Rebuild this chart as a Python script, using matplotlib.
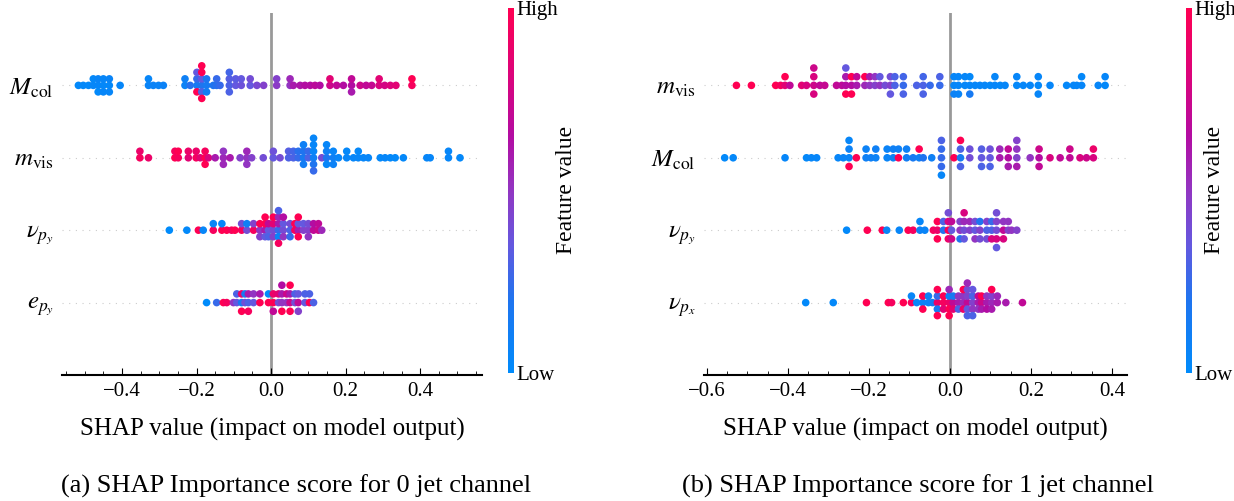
import numpy as np
import matplotlib
matplotlib.use("Agg")
import matplotlib.pyplot as plt
from matplotlib.colors import LinearSegmentedColormap

plt.rcParams['font.family'] = ['Liberation Serif', 'DejaVu Serif']
plt.rcParams['mathtext.fontset'] = 'stix'

# ---- data: SHAP values and (normalised) feature values ----
# (a) 0 jet channel, top to bottom
left_labels = [r'$M_{\rm col}$', r'$m_{\rm vis}$', r'$\nu_{p_y}$', r'$e_{p_y}$']

mcol0_shap = [-0.517, -0.504, -0.490, -0.477, -0.477, -0.464, -0.464, -0.464, -0.450, -0.450, -0.450,
              -0.434, -0.434, -0.434, -0.405,
              -0.329, -0.329, -0.316, -0.302, -0.289, -0.231, -0.231, -0.217,
              -0.199, -0.199, -0.199, -0.199, -0.186, -0.186, -0.186, -0.186, -0.186, -0.186,
              -0.173, -0.173, -0.173, -0.155, -0.146, -0.146, -0.137,
              -0.112, -0.112, -0.112, -0.112, -0.095, -0.095, -0.080, -0.080, -0.056, -0.056,
              -0.038, -0.020, 0.015, 0.015, 0.051, 0.051,
              0.060, 0.078, 0.091, 0.105, 0.118, 0.131, 0.158, 0.158, 0.176, 0.194,
              0.216, 0.216, 0.216, 0.239, 0.255, 0.270, 0.290, 0.290, 0.305, 0.320, 0.335,
              0.378, 0.378]
mcol0_feat = [0.02, 0.03, 0.02, 0.05, 0.03, 0.04, 0.06, 0.02, 0.03, 0.05, 0.04,
              0.03, 0.06, 0.05, 0.04,
              0.06, 0.05, 0.07, 0.06, 0.08, 0.08, 0.10, 0.22,
              0.15, 0.25, 1.00, 0.35, 0.20, 0.35, 0.30, 1.00, 1.00, 1.00,
              0.15, 0.18, 0.12, 0.20, 0.22, 0.25, 0.25,
              0.30, 0.32, 0.30, 0.28, 0.35, 0.33, 0.38, 0.35, 0.35, 0.40,
              0.42, 0.45, 0.48, 0.45, 0.50, 0.55,
              0.60, 0.62, 0.65, 0.65, 0.68, 0.65, 0.75, 0.85, 0.70, 0.65,
              0.65, 0.70, 0.60, 0.75, 0.70, 0.72, 0.80, 0.85, 0.78, 0.82, 0.85,
              0.95, 1.00]

mvis0_shap = [-0.352, -0.352, -0.329, -0.258, -0.258, -0.249, -0.249, -0.222, -0.222, -0.201, -0.201,
              -0.190, -0.177, -0.177, -0.177, -0.168, -0.150, -0.128, -0.128, -0.128, -0.110,
              -0.083, -0.065, -0.065, -0.065, -0.052, -0.021, 0.006, 0.006, 0.024,
              0.047, 0.047, 0.060, 0.060, 0.073, 0.073, 0.087, 0.087, 0.087, 0.087, 0.100, 0.100,
              0.114, 0.114, 0.114, 0.114, 0.114, 0.114, 0.136, 0.149, 0.149, 0.149, 0.149,
              0.167, 0.167, 0.167, 0.181, 0.203, 0.203, 0.221, 0.234, 0.234, 0.248, 0.261,
              0.293, 0.306, 0.320, 0.333, 0.355, 0.418, 0.427, 0.476, 0.476, 0.507]
mvis0_feat = [0.95, 0.90, 0.90, 1.00, 0.95, 0.95, 1.00, 0.85, 0.90, 0.95, 0.90,
              0.85, 1.00, 0.95, 1.00, 0.80, 0.60, 0.55, 0.50, 0.55, 0.60,
              0.45, 0.50, 0.55, 0.50, 0.45, 0.40, 0.35, 0.38, 0.40,
              0.30, 0.32, 0.30, 0.28, 0.25, 0.22, 0.15, 0.20, 0.12, 0.10, 0.30, 0.25,
              0.10, 0.05, 0.20, 0.05, 0.25, 0.05, 0.40, 0.20, 0.10, 0.05, 0.05,
              0.10, 0.05, 0.08, 0.05, 0.05, 0.03, 0.04, 0.05, 0.03, 0.04, 0.05,
              0.03, 0.04, 0.03, 0.02, 0.03, 0.05, 0.04, 0.04, 0.05, 0.03]

nupy0_shap = [-0.273, -0.226, -0.195, -0.182, -0.155, -0.155, -0.132, -0.132, -0.119, -0.106, -0.097,
              -0.079, -0.079, -0.065, -0.065, -0.047, -0.047, -0.030, -0.030, -0.030,
              -0.016, -0.016, -0.016, -0.016, -0.007, -0.007, -0.007, 0.006, 0.006, 0.006, 0.006,
              0.020, 0.020, 0.020, 0.020, 0.020, 0.020, 0.033, 0.033, 0.033, 0.033,
              0.051, 0.051, 0.051, 0.064, 0.064, 0.073, 0.073, 0.073, 0.073, 0.087, 0.087,
              0.100, 0.100, 0.100, 0.114, 0.114, 0.127, 0.127, 0.136]
nupy0_feat = [0.00, 0.02, 1.00, 0.05, 0.95, 0.05, 1.00, 0.04, 1.00, 0.95, 1.00,
              0.95, 0.40, 0.40, 0.10, 0.95, 0.45, 0.50, 1.00, 0.45,
              0.60, 1.00, 0.35, 1.00, 0.35, 0.70, 0.30, 0.40, 0.85, 0.45, 1.00,
              0.25, 0.60, 0.05, 0.55, 0.95, 0.30, 0.40, 0.35, 0.50, 0.65,
              0.30, 0.40, 0.25, 0.95, 1.00, 0.60, 0.35, 1.00, 1.00, 0.45, 0.35,
              0.45, 0.40, 0.50, 0.70, 0.65, 0.75, 0.70, 0.55]

epy0_shap = [-0.173, -0.146, -0.128, -0.119, -0.101, -0.092, -0.092, -0.079, -0.079, -0.079,
             -0.070, -0.070, -0.061, -0.061, -0.061, -0.047, -0.047, -0.030, -0.030,
             -0.007, -0.007, 0.006, 0.006, 0.006, 0.020, 0.020, 0.029, 0.029, 0.029, 0.029,
             0.042, 0.042, 0.051, 0.051, 0.051, 0.051, 0.064, 0.064, 0.073, 0.073, 0.073,
             0.091, 0.091, 0.103, 0.103, 0.114]
epy0_feat = [0.00, 0.25, 1.00, 0.95, 0.50, 0.35, 0.30, 0.15, 0.90, 1.00,
             0.40, 0.15, 0.30, 0.60, 0.95, 0.35, 0.50, 1.00, 0.60,
             1.00, 0.00, 1.00, 0.90, 0.70, 0.40, 0.85, 0.50, 0.60, 1.00, 0.65,
             0.50, 0.75, 0.75, 0.60, 1.00, 1.00, 0.40, 0.30, 0.70, 0.35, 0.45,
             0.35, 0.30, 1.00, 0.30, 0.30]

# (b) 1 jet channel, top to bottom
right_labels = [r'$m_{\rm vis}$', r'$M_{\rm col}$', r'$\nu_{p_y}$', r'$\nu_{p_x}$']

mvis1_shap = [-0.527, -0.490, -0.430, -0.418, -0.407, -0.407, -0.395, -0.366, -0.354,
              -0.336, -0.336, -0.336, -0.336, -0.321, -0.309, -0.280, -0.267,
              -0.257, -0.257, -0.257, -0.257, -0.243, -0.243, -0.243, -0.230, -0.230,
              -0.210, -0.210, -0.198, -0.198, -0.185, -0.185, -0.173, -0.173, -0.160,
              -0.147, -0.147, -0.147, -0.136, -0.136, -0.115, -0.115, -0.115, -0.082,
              -0.066, -0.066, -0.066, -0.049, -0.025, -0.025,
              0.010, 0.010, 0.010, 0.021, 0.021, 0.021, 0.037, 0.037, 0.049, 0.049, 0.049,
              0.062, 0.074, 0.086, 0.099, 0.111, 0.111, 0.124, 0.136, 0.165, 0.165, 0.181, 0.198,
              0.218, 0.218, 0.218, 0.247, 0.288, 0.305, 0.313, 0.325, 0.325, 0.366, 0.383, 0.383]
mvis1_feat = [1.00, 1.00, 1.00, 0.95, 0.85, 1.00, 0.70, 0.85, 0.80,
              0.75, 0.80, 0.80, 0.75, 0.70, 0.72, 0.70, 0.68,
              0.65, 0.60, 1.00, 0.35, 0.65, 1.00, 1.00, 0.60, 0.70,
              0.55, 1.00, 0.50, 0.60, 0.45, 0.50, 0.50, 0.35, 0.40,
              0.45, 0.40, 0.35, 0.30, 0.30, 0.25, 0.28, 0.30, 0.30,
              0.30, 0.28, 0.30, 0.25, 0.25, 0.30,
              0.05, 0.05, 0.08, 0.05, 0.04, 0.06, 0.05, 0.05, 0.04, 0.03, 0.15,
              0.05, 0.04, 0.05, 0.03, 0.04, 0.05, 0.03, 0.05, 0.03, 0.04, 0.04, 0.05,
              0.03, 0.04, 0.05, 0.04, 0.03, 0.04, 0.05, 0.04, 0.03, 0.05, 0.03, 0.04]

mcol1_shap = [-0.556, -0.535, -0.407, -0.354, -0.342, -0.329, -0.276, -0.263,
              -0.249, -0.249, -0.249, -0.249, -0.231, -0.207, -0.207, -0.195, -0.183, -0.183,
              -0.155, -0.155, -0.140, -0.140, -0.127, -0.127, -0.107, -0.107, -0.091,
              -0.076, -0.076, -0.066, -0.045, -0.021, -0.021, -0.021, -0.021, -0.021,
              0.010, 0.026, 0.026, 0.026, 0.026, 0.049, 0.049, 0.078, 0.078, 0.078,
              0.099, 0.099, 0.099, 0.123, 0.123, 0.144, 0.144, 0.144, 0.165, 0.165, 0.165, 0.165,
              0.198, 0.220, 0.220, 0.220, 0.247, 0.272, 0.296, 0.296, 0.321, 0.337, 0.354, 0.354]
mcol1_feat = [0.02, 0.03, 0.04, 0.03, 0.05, 0.04, 0.05, 0.06,
              0.06, 0.08, 1.00, 0.05, 1.00, 0.10, 0.08, 0.10, 0.08, 0.10,
              0.06, 0.07, 0.08, 0.10, 1.00, 0.10, 0.12, 0.10, 0.15,
              0.10, 1.00, 0.20, 0.10, 0.25, 0.25, 0.25, 0.30, 0.05,
              1.00, 0.15, 0.30, 0.30, 1.00, 0.40, 0.38, 0.35, 0.32, 0.30,
              0.35, 0.38, 0.30, 0.60, 0.55, 0.65, 0.70, 0.60, 0.45, 0.50, 0.60, 0.45,
              0.50, 0.65, 0.75, 0.70, 0.80, 0.70, 0.70, 0.75, 0.80, 0.75, 0.80, 0.90]

nupy1_shap = [-0.255, -0.204, -0.167, -0.156, -0.125, -0.103, -0.091, -0.074, -0.074, -0.062,
              -0.041, -0.031, -0.031, -0.031, -0.016, -0.016, -0.004, -0.004, -0.004, -0.004,
              0.004, 0.004, 0.004, 0.025, 0.025, 0.025, 0.035, 0.035, 0.035, 0.035, 0.049, 0.049,
              0.062, 0.062, 0.062, 0.074, 0.074, 0.074, 0.091, 0.091, 0.091, 0.103, 0.103, 0.103,
              0.115, 0.115, 0.115, 0.115, 0.115, 0.132, 0.132, 0.132, 0.144, 0.144, 0.152, 0.165]
nupy1_feat = [0.02, 1.00, 1.00, 0.05, 0.05, 1.00, 0.95, 0.08, 0.05, 0.06,
              0.95, 0.90, 1.00, 1.00, 0.20, 0.30, 1.00, 0.80, 0.90, 0.40,
              0.35, 0.70, 0.75, 0.50, 0.45, 0.20, 0.40, 0.55, 0.35, 0.80, 0.45, 0.55,
              0.35, 0.40, 0.50, 0.45, 0.20, 0.40, 0.30, 0.45, 0.40, 0.30, 0.25, 0.80,
              0.40, 0.45, 0.80, 0.40, 0.35, 0.70, 0.50, 0.80, 0.45, 0.50, 0.50, 0.45]

nupx1_shap = [-0.356, -0.288, -0.206, -0.152, -0.144, -0.115, -0.095, -0.095, -0.082,
              -0.067, -0.067, -0.067, -0.053, -0.053, -0.043,
              -0.031, -0.031, -0.031, -0.031, -0.031, -0.016, -0.016, -0.016,
              -0.002, -0.002, -0.002, -0.002, -0.002, 0.008, 0.008, 0.008, 0.021, 0.021, 0.021,
              0.033, 0.033, 0.033, 0.033, 0.043, 0.043, 0.043, 0.043, 0.043, 0.043,
              0.056, 0.056, 0.056, 0.056, 0.056, 0.070, 0.070, 0.070, 0.078, 0.078, 0.078,
              0.091, 0.091, 0.091, 0.103, 0.103, 0.103, 0.103, 0.117, 0.117, 0.138, 0.179]
nupx1_feat = [0.02, 0.03, 1.00, 1.00, 0.95, 1.00, 0.95, 0.05, 0.05,
              0.08, 1.00, 1.00, 0.08, 0.10, 0.12,
              0.90, 0.25, 0.15, 1.00, 1.00, 0.95, 1.00, 0.85,
              0.90, 0.10, 1.00, 0.55, 1.00, 0.70, 0.15, 0.85, 0.60, 0.50, 0.30,
              0.55, 0.50, 0.90, 1.00, 0.70, 0.45, 0.35, 0.40, 0.30, 0.55,
              0.45, 0.30, 0.50, 0.35, 0.30, 0.60, 0.70, 0.50, 0.75, 1.00, 0.60,
              0.60, 0.50, 0.65, 0.55, 0.45, 0.60, 1.00, 0.60, 0.55, 0.60, 0.70]

left_shap = [mcol0_shap, mvis0_shap, nupy0_shap, epy0_shap]
left_feat = [mcol0_feat, mvis0_feat, nupy0_feat, epy0_feat]
right_shap = [mvis1_shap, mcol1_shap, nupy1_shap, nupx1_shap]
right_feat = [mvis1_feat, mcol1_feat, nupy1_feat, nupx1_feat]

# shap-like blue -> red colormap
red_blue = LinearSegmentedColormap.from_list('red_blue', [
    (0.0, '#008bfb'), (0.2, '#1f74ef'), (0.35, '#6458df'), (0.5, '#9236c2'),
    (0.65, '#b30ca2'), (0.8, '#d8047f'), (1.0, '#ff0052')])


def swarm_offsets(vals, row_height=0.4, nbins=100):
    # same binning/stacking as shap's beeswarm
    vals = np.asarray(vals, dtype=float)
    quant = np.round(nbins * (vals - vals.min()) / (vals.max() - vals.min() + 1e-8))
    inds = np.argsort(quant, kind='stable')
    ys = np.zeros(len(vals))
    layer, last = 0, -1
    for i in inds:
        if quant[i] != last:
            layer = 0
        ys[i] = np.ceil(layer / 2) * ((layer % 2) * 2 - 1)
        layer += 1
        last = quant[i]
    ys *= 0.9 * (row_height / np.max(ys + 1))
    return ys


def beeswarm(ax, cax, labels, shap_rows, feat_rows, xlim, xticks, fv_x):
    n = len(labels)
    for i, (sv, fv) in enumerate(zip(shap_rows, feat_rows)):
        pos = n - 1 - i
        ax.axhline(pos, color='#cccccc', lw=0.8, dashes=(1, 5), zorder=-1)
        ys = swarm_offsets(sv)
        ax.scatter(sv, pos + ys, c=fv, cmap=red_blue, vmin=0, vmax=1, s=30,
                   linewidth=0, alpha=1, zorder=3)
    ax.axvline(0, color='#999999', lw=2, zorder=-1)
    ax.set_xlim(*xlim)
    ax.set_ylim(-1, n)
    ax.set_yticks(range(n))
    ax.set_yticklabels(labels[::-1], fontsize=18)
    ax.tick_params(axis='y', length=0, pad=6)
    ax.set_xticks(xticks)
    ax.set_xticklabels([f'{t:.1f}'.replace('-', '\u2212') for t in xticks])
    ax.xaxis.set_minor_locator(plt.MultipleLocator(0.05))
    ax.tick_params(axis='x', which='major', direction='in', length=5, labelsize=15, pad=5)
    ax.tick_params(axis='x', which='minor', direction='in', length=3)
    for side in ('left', 'right', 'top'):
        ax.spines[side].set_visible(False)
    ax.spines['bottom'].set_linewidth(1.5)

    # x label centred under the axes
    bb = ax.get_position()
    fig.text(bb.x0 + bb.width / 2, 1 - 429 / 501, 'SHAP value (impact on model output)',
             fontsize=18, ha='center', va='center')

    sm = plt.cm.ScalarMappable(cmap=red_blue, norm=plt.Normalize(0, 1))
    cb = plt.colorbar(sm, cax=cax, ticks=[0, 1])
    cb.outline.set_visible(False)
    cb.set_ticklabels(['Low', 'High'])
    cax.tick_params(labelsize=15, length=0, pad=1.5)
    fig.text(fv_x, 0.62, 'Feature value', rotation=90, fontsize=17,
             ha='center', va='center')


fig = plt.figure(figsize=(12.34, 5.01), dpi=100)
ax_a = fig.add_axes([62 / 1234, 0.2515, 420 / 1234, 0.7226])
cax_a = fig.add_axes([508 / 1234, 0.2555, 0.005, 0.7285])
ax_b = fig.add_axes([704 / 1234, 0.2515, 423 / 1234, 0.7226])
cax_b = fig.add_axes([1186 / 1234, 0.2555, 0.005, 0.7285])

beeswarm(ax_a, cax_a, left_labels, left_shap, left_feat,
         (-0.561, 0.566), [-0.4, -0.2, 0.0, 0.2, 0.4], 567 / 1234)
beeswarm(ax_b, cax_b, right_labels, right_shap, right_feat,
         (-0.607, 0.437), [-0.6, -0.4, -0.2, 0.0, 0.2, 0.4], 1214 / 1234)

fig.text(296 / 1234, 1 - 486 / 501, '(a) SHAP Importance score for 0 jet channel',
         fontsize=19, ha='center', va='center')
fig.text(918 / 1234, 1 - 486 / 501, '(b) SHAP Importance score for 1 jet channel',
         fontsize=19, ha='center', va='center')

fig.savefig('out.png', dpi=100, facecolor='white')
